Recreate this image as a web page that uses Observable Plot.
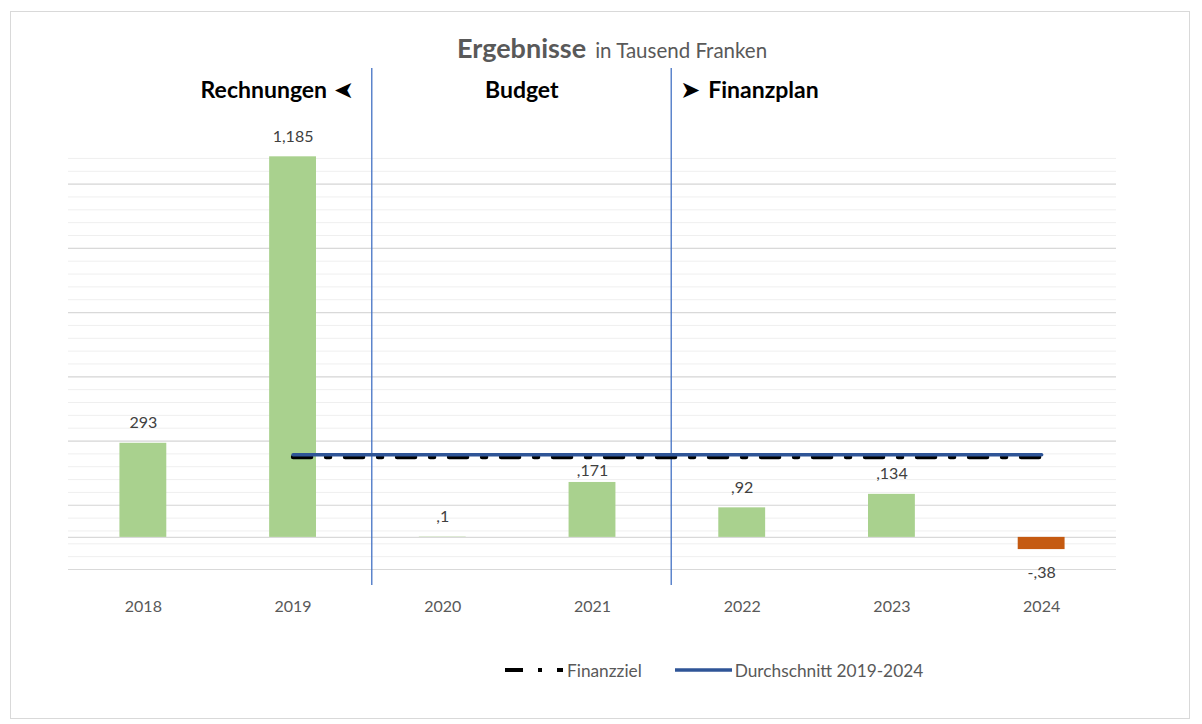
<!DOCTYPE html>
<html>
<head>
<meta charset="utf-8">
<script src="https://cdn.jsdelivr.net/npm/d3@7"></script>
<script src="https://cdn.jsdelivr.net/npm/@observablehq/plot@0.6"></script>
<style>
  html, body { margin: 0; padding: 0; background: #fff; }
  #wrap { position: relative; width: 1202px; height: 724px; font-family: Lato, "Open Sans", sans-serif; }
  #border { position: absolute; left: 10px; top: 11px; width: 1180px; height: 708px; border: 1px solid #d9d9d9; box-sizing: border-box; }
  #title { position: absolute; left: 457px; top: 31px; white-space: nowrap; color: #595959; }
  #title .main { font-size: 27px; font-weight: 700; }
  #title .sub { font-size: 20.5px; margin-left: 9px; }
  #chart { position: absolute; left: 0; top: 60px; }
  #legend { position: absolute; left: 505px; top: 659px; height: 22px; display: flex; align-items: center; color: #595959; font-size: 17.3px; white-space: nowrap; }
  #legend svg { display: block; }
</style>
</head>
<body>
<div id="wrap">
  <div id="border"></div>
  <div id="title"><span class="main">Ergebnisse</span><span class="sub">in Tausend Franken</span></div>
  <div id="chart"></div>
  <div id="legend">
    <svg width="60" height="20"><line x1="0" x2="58" y1="10" y2="10" stroke="#000" stroke-width="4" stroke-dasharray="18,15,4,15"/></svg>
    <span style="margin-left:2px">Finanzziel</span>
    <svg width="62" height="20" style="margin-left:31px"><line x1="2" x2="59" y1="10" y2="10" stroke="#2f5597" stroke-width="3.5"/></svg>
    <span>Durchschnitt 2019-2024</span>
  </div>
</div>
<script>
// ---- data ----
const years = ["2018", "2019", "2020", "2021", "2022", "2023", "2024"];
const results = [293, 1185, 1, 171, 92, 134, -38];
const resultLabels = ["293", "1,185", ",1", ",171", ",92", ",134", "-,38"];
const lineYears = ["2019", "2020", "2021", "2022", "2023", "2024"];
const average = [257.5, 257.5, 257.5, 257.5, 257.5, 257.5];
const target = [250, 250, 250, 250, 250, 250];
const sectionBreaks = ["2020", "2022"];

// ---- tables ----
const bars = years.map((y, i) => ({year: y, value: results[i], label: resultLabels[i]}));
const avgData = lineYears.map((y, i) => ({year: y, value: average[i]}));
const targetData = lineYears.map((y, i) => ({year: y, value: target[i]}));

const green = "#a9d18e", orange = "#c55a11";
const textFont = "Lato, 'Open Sans', sans-serif";
const sec = {frameAnchor: "top", lineAnchor: "middle", dy: -61.5, fill: "#000"};

const chart = Plot.plot({
  width: 1202,
  height: 560,
  marginLeft: 68,
  marginRight: 86,
  marginTop: 91.5,
  marginBottom: 51,
  style: {fontFamily: textFont, background: "transparent", overflow: "visible"},
  x: {domain: years, axis: null, paddingInner: 0.687, paddingOuter: 0.3435, round: false},
  y: {domain: [-100, 1200], axis: null},
  marks: [
    // minor & major gridlines
    Plot.ruleY(d3.range(-100, 1181, 40), {stroke: "#efefef", strokeWidth: 1}),
    Plot.ruleY(d3.range(-100, 1101, 200), {stroke: "#d9d9d9", strokeWidth: 1.2}),
    Plot.ruleY([0], {stroke: "#d9d9d9", strokeWidth: 1.2}),
    // bars
    Plot.barY(bars.filter(d => d.value >= 0), {x: "year", y: "value", fill: green}),
    Plot.barY(bars.filter(d => d.value < 0), {x: "year", y: "value", fill: orange}),
    // section dividers
    Plot.ruleX(sectionBreaks, {x: d => d, dx: -71, stroke: "#4472c4", strokeWidth: 1.3, insetTop: -83.5, insetBottom: -16}),
    // lines
    Plot.lineY(targetData, {x: "year", y: "value", stroke: "#000", strokeWidth: 4.5, strokeDasharray: "18,15,4,15"}),
    Plot.lineY(avgData, {x: "year", y: "value", stroke: "#2f5597", strokeWidth: 3.5, strokeLinecap: "round"}),
    // data labels
    Plot.text(bars.filter(d => d.value >= 0 && d.year !== "2021"), {x: "year", y: "value", text: "label", dy: -20, fontSize: 16, fill: "#404040"}),
    Plot.text(bars.filter(d => d.year === "2021"), {x: "year", y: "value", text: "label", dy: -12, fontSize: 16, fill: "#404040"}),
    Plot.text(bars.filter(d => d.value < 0), {x: "year", y: "value", text: "label", dy: 23, fontSize: 16, fill: "#404040"}),
    // x axis labels
    Plot.text(years, {x: d => d, frameAnchor: "bottom", lineAnchor: "middle", dy: 37, fontSize: 16, fill: "#595959"}),
    // section labels
    Plot.text(["Rechnungen"], {...sec, x: () => "2019", dx: 34, textAnchor: "end", fontSize: 23, fontWeight: 700}),
    Plot.text(["➤"], {...sec, x: () => "2019", dx: 51, rotate: 180, fontSize: 24, fontFamily: "DejaVu Sans"}),
    Plot.text(["Budget"], {...sec, x: () => "2020", dx: 79, fontSize: 23, fontWeight: 700}),
    Plot.text(["➤"], {...sec, x: () => "2022", dx: -52, fontSize: 24, fontFamily: "DejaVu Sans"}),
    Plot.text(["Finanzplan"], {...sec, x: () => "2022", dx: -34, textAnchor: "start", fontSize: 23, fontWeight: 700})
  ]
});
document.getElementById("chart").appendChild(chart);
</script>
</body>
</html>
